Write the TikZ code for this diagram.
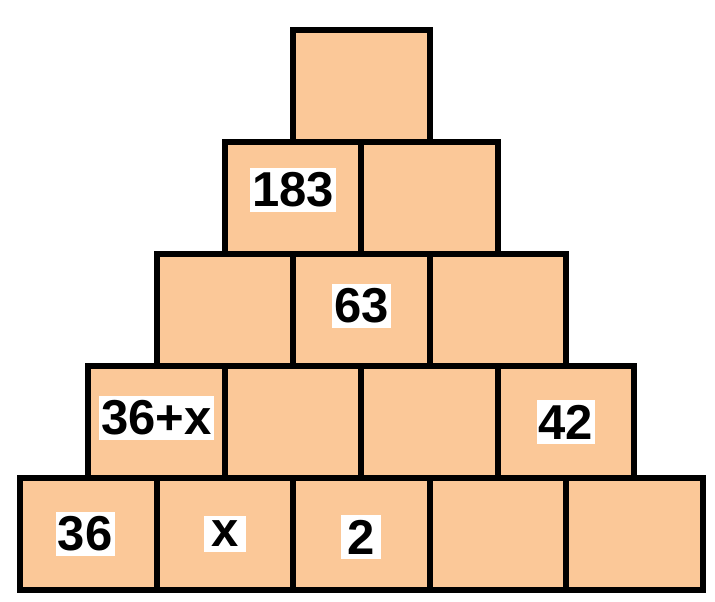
\documentclass[tikz,border=0pt]{standalone}
\usepackage{fontspec}
\setmainfont{Liberation Sans}
\usetikzlibrary{positioning}
\definecolor{peach}{HTML}{FBC898}

\begin{document}
\begin{tikzpicture}[x=1pt, y=-1pt,
		main/.style = {draw, fill=peach, line width=6pt, outer sep=0pt, inner sep=0pt, minimum width=136.5pt, minimum height=112pt},
		num/.style = {fill=white, inner xsep=2pt, inner ysep=5pt, font=\fontsize{49}{49}\selectfont\bfseries}]
		\useasboundingbox (0,0) rectangle (715,602);

		\node[main] (e1) at (88.25,534) {};
		\node[main] (e2) [right=0pt of e1] {};
		\node[main] (e3) [right=0pt of e2] {};
		\node[main] (e4) [right=0pt of e3] {};
		\node[main] (e5) [right=0pt of e4] {};

		\node[main, anchor=south] (d1) at (e1.north east) {};
		\node[main] (d2) [right=0pt of d1] {};
		\node[main] (d3) [right=0pt of d2] {};
		\node[main] (d4) [right=0pt of d3] {};

		\node[main, anchor=south] (c1) at (d1.north east) {};
		\node[main] (c2) [right=0pt of c1] {};
		\node[main] (c3) [right=0pt of c2] {};

		\node[main, anchor=south] (b1) at (c1.north east) {};
		\node[main] (b2) [right=0pt of b1] {};

		\node[main, anchor=south] (a1) at (b1.north east) {};

		\node[num] (l183) at (b1) [yshift=8pt] {183};
		\node[num] (l63) at (c2) [yshift=4pt] {63};
		\node[num] (l36x) at (d1) [yshift=4pt] {36+x};
		\node[num] (l42) at (d4) {42};
		\node[num] (l36) at (e1) [xshift=-3pt] {36};
		\node[num, minimum width=42pt] (lx) at (e2) {x};
		\node[num, minimum width=40pt] (l2) at (e3) [yshift=-3pt] {2};

	\end{tikzpicture}
\end{document}
